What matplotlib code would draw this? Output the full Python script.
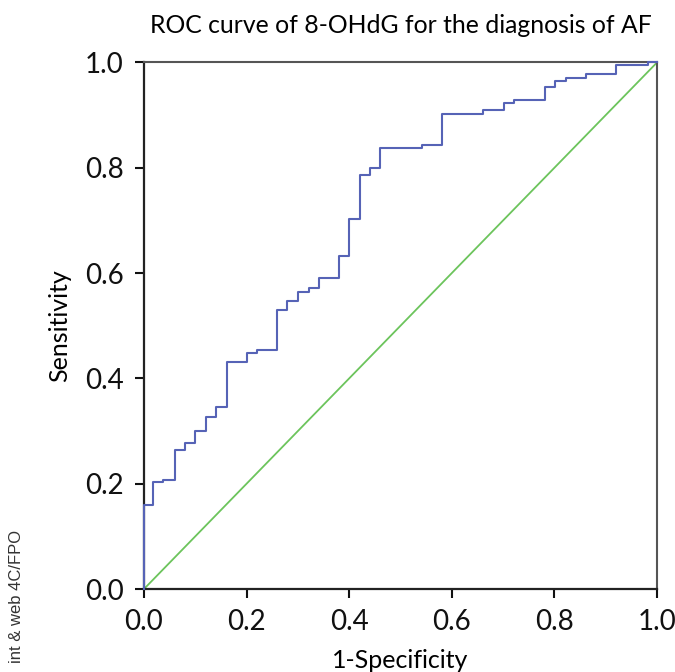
import matplotlib
matplotlib.use("Agg")
import matplotlib.pyplot as plt

# ROC des points (seuils successifs)
fpr = [0.0, 0.0, 0.018, 0.038, 0.060, 0.079, 0.099, 0.120, 0.140, 0.161,
       0.200, 0.221, 0.260, 0.279, 0.301, 0.322, 0.341, 0.380, 0.400, 0.421,
       0.441, 0.460, 0.541, 0.581, 0.660, 0.702, 0.721, 0.782, 0.802, 0.823,
       0.861, 0.921, 0.983, 1.0]
tpr = [0.0, 0.160, 0.203, 0.207, 0.264, 0.277, 0.301, 0.326, 0.345, 0.431,
       0.449, 0.454, 0.529, 0.547, 0.565, 0.572, 0.591, 0.633, 0.702, 0.787,
       0.800, 0.837, 0.843, 0.903, 0.909, 0.923, 0.928, 0.953, 0.965, 0.971,
       0.979, 0.996, 1.0, 1.0]
ref_line = [0.0, 1.0]
ticks = [0.0, 0.2, 0.4, 0.6, 0.8, 1.0]

plt.rcParams["font.family"] = ["Lato", "DejaVu Sans"]

fig = plt.figure(figsize=(6.75, 6.72), dpi=100)
ax = fig.add_axes([0.2133, 0.1235, 0.76, 0.7835])

ax.plot(ref_line, ref_line, color="#6cc45c", lw=1.3, clip_on=False, zorder=2)
ax.step(fpr, tpr, where="post", color="#5663b6", lw=1.5, clip_on=False, zorder=3)

ax.set_xlim(0, 1)
ax.set_ylim(0, 1)
ax.set_xticks(ticks)
ax.set_yticks(ticks)
ax.set_xticklabels([f"{t:.1f}" for t in ticks])
ax.set_yticklabels([f"{t:.1f}" for t in ticks])
ax.tick_params(direction="out", length=6.5, width=1.5, labelsize=20, pad=8, colors="#111111")

for s in ["left", "bottom"]:
    ax.spines[s].set_linewidth(1.6)
    ax.spines[s].set_color("#222222")
for s in ["top", "right"]:
    ax.spines[s].set_linewidth(1.5)
    ax.spines[s].set_color("#555555")

ax.set_xlabel("1-Specificity", fontsize=18, labelpad=10)
ax.set_ylabel("Sensitivity", fontsize=18, labelpad=10)
ax.set_title("ROC curve of 8-OHdG for the diagnosis of AF", fontsize=17.8, pad=21)

# mention d'impression coupée sur le bord de la page d'origine
fig.text(17 / 675, (672 - 530) / 672, "int & web 4C/FPO", rotation=90,
         ha="center", va="top", fontsize=12, family="Liberation Sans", color="#333333")

plt.savefig("out.png", dpi=100)
plt.close()
